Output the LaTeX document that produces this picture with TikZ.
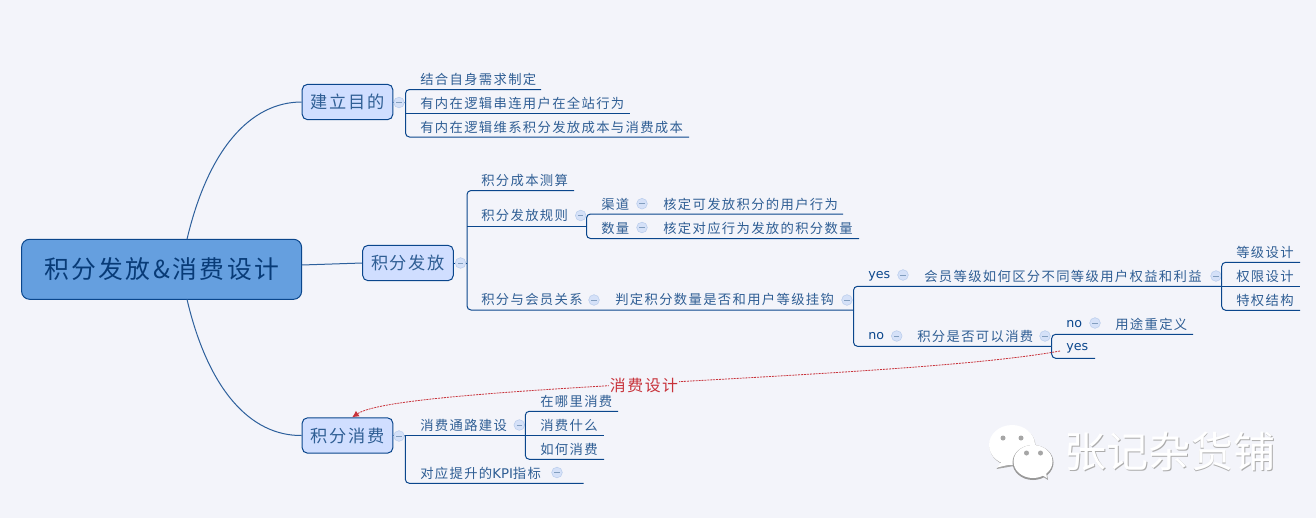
\documentclass[tikz,border=0pt]{standalone}
\usepackage{fontspec}
\setmainfont[LetterSpace=10]{Noto Sans CJK SC}
\newfontfamily\latinfont{DejaVu Sans}
\newfontfamily\markfont{Noto Sans CJK SC}
\definecolor{paper}{HTML}{F3F4FA}
\definecolor{mapline}{HTML}{0A468C}
\definecolor{maptext}{HTML}{2F5E94}
\definecolor{rootfill}{HTML}{659FDF}
\definecolor{mainfill}{HTML}{D0DEFF}
\definecolor{foldfill}{HTML}{D5E1F8}
\definecolor{foldline}{HTML}{BACDEC}
\definecolor{relred}{HTML}{C8323A}
\tikzset{
  rootbox/.style={draw=mapline, fill=rootfill, rounded corners=6pt, line width=.75pt, minimum width=210pt, minimum height=45pt, text=mapline!85!black, font=\fontsize{18.6}{23}\selectfont, inner sep=0pt},
  mainbox/.style={draw=mapline, fill=mainfill, rounded corners=4pt, line width=.75pt, minimum width=68pt, minimum height=26.5pt, text=maptext, font=\fontsize{12.9}{16}\selectfont, inner sep=0pt},
  topic/.style={anchor=west, inner sep=0pt, text=maptext, font=\fontsize{10}{12}\selectfont},
  yesno/.style={anchor=west, inner sep=0pt, text=mapline, font=\latinfont\fontsize{9.5}{12}\selectfont},
  foldmark/.style={circle, draw=foldline, fill=foldfill, line width=.4pt, minimum size=8pt, inner sep=0pt, path picture={\draw[maptext!60, line width=.4pt] ([xshift=-2pt]path picture bounding box.center) -- ([xshift=2pt]path picture bounding box.center);}},
  branch/.style={draw=mapline, line width=.75pt, rounded corners=3pt},
  trunk/.style={draw=mapline!85!paper, line width=.75pt},
  relation/.style={draw=relred, line width=.6pt, dash pattern=on 1.5pt off .7pt, -{Latex[length=5pt,width=5pt]}},
}
\usetikzlibrary{arrows.meta}
\begin{document}
\begin{tikzpicture}[x=.75pt, y=-.75pt]
  \useasboundingbox (0,0) rectangle (1316,518);
  \fill[paper] (0,0) rectangle (1316,518);

  \node[rootbox] (root) at (161.6,269.3) {\raisebox{-.7pt}{积分发放\&消费设计}};
  \node[mainbox] (goal) at (347.5,102) {建立目的};
  \node[mainbox] (issue) at (408,263) {\raisebox{-.6pt}{积分发放}};
  \node[mainbox] (spend) at (347.5,435.5) {积分消费};

  \coordinate (rootTop) at (187,239.3);
  \coordinate (rootBottom) at (187,299.3);
  \coordinate (rootSide) at (301.7,265);
  \draw[trunk] (rootTop) .. controls (208,150) and (250,102) .. (goal.west);
  \draw[trunk] (rootBottom) .. controls (208,389) and (250,436) .. (spend.west);
  \draw[trunk] (rootSide) -- (issue.west);

  \node[foldmark] (goalFold) at (399,102.5) {};
  \coordinate (goalBar) at (405.5,102.5);
  \node[topic] (goalOne) at (420,79) {结合自身需求制定};
  \node[topic] (goalTwo) at (420,103) {有内在逻辑串连用户在全站行为};
  \node[topic] (goalThree) at (420,127) {有内在逻辑维系积分发放成本与消费成本};
  \coordinate (goalOneEnd) at (541,89.5);
  \coordinate (goalTwoEnd) at (630,113);
  \coordinate (goalThreeEnd) at (689,137);
  \draw[branch] (goal.east) -- (goalFold.west) (goalFold.east) -- (goalBar);
  \draw[branch] (goalBar) |- (goalOneEnd);
  \draw[branch] (goalBar) |- (goalThreeEnd);
  \draw[branch] (goalTwoEnd -| goalBar) -- (goalTwoEnd);

  \node[foldmark] (issueFold) at (460.5,263) {};
  \coordinate (issueBar) at (467,263);
  \node[topic] (cost) at (481,180) {积分成本测算};
  \node[topic] (rule) at (481,215.5) {积分发放规则};
  \node[topic] (member) at (481,299.5) {积分与会员关系};
  \coordinate (costEnd) at (574,190.5);
  \coordinate (ruleBar) at (586.5,226);
  \coordinate (memberBar) at (853.5,310);
  \draw[branch] (issue.east) -- (issueFold.west) (issueFold.east) -- (issueBar);
  \draw[branch] (issueBar) |- (costEnd);
  \draw[branch] (issueBar) |- (memberBar);
  \draw[branch] (ruleBar -| issueBar) -- (ruleBar);

  \node[foldmark] (ruleFold) at (580.7,215.5) {};
  \node[topic] (channel) at (601,204) {渠道};
  \node[foldmark] (channelFold) at (642,203.7) {};
  \node[topic] (channelNote) at (663,204) {核定可发放积分的用户行为};
  \node[topic] (amount) at (601,228) {数量};
  \node[foldmark] (amountFold) at (642,227.5) {};
  \node[topic] (amountNote) at (663,228) {核定对应行为发放的积分数量};
  \coordinate (channelEnd) at (843,214);
  \coordinate (amountEnd) at (859,238.5);
  \draw[branch] (ruleBar) |- (channelEnd);
  \draw[branch] (ruleBar) |- (amountEnd);

  \node[foldmark] (memberFold) at (594,300) {};
  \node[topic] (judge) at (615,299.5) {判定积分数量是否和用户等级挂钩};
  \node[foldmark] (judgeFold) at (847,300) {};

  \node[yesno] (yesA) at (868,276) {yes};
  \node[foldmark] (yesFold) at (903,275) {};
  \node[topic] (grade) at (924,276) {会员等级如何区分不同等级用户权益和利益};
  \node[foldmark] (gradeFold) at (1216,276) {};
  \node[topic] (gradeOne) at (1236,252) {等级设计};
  \node[topic] (gradeTwo) at (1236,276) {权限设计};
  \node[topic] (gradeThree) at (1236,300) {特权结构};
  \coordinate (gradeBar) at (1221.7,286.3);
  \coordinate (gradeOneEnd) at (1300,262.3);
  \coordinate (gradeTwoEnd) at (1300,286.3);
  \coordinate (gradeThreeEnd) at (1300,310.3);
  \draw[branch] (memberBar) |- (gradeBar);
  \draw[branch] (gradeBar) |- (gradeOneEnd);
  \draw[branch] (gradeBar) |- (gradeThreeEnd);
  \draw[branch] (gradeBar) -- (gradeTwoEnd);

  \node[yesno] (noA) at (868,336) {no};
  \node[foldmark] (noFold) at (896.7,336) {};
  \node[topic] (usable) at (917,336) {积分是否可以消费};
  \node[foldmark] (usableFold) at (1045,336) {};
  \node[yesno] (noB) at (1066,324) {no};
  \node[foldmark] (noBFold) at (1095,323) {};
  \node[topic] (redefine) at (1115,324) {用途重定义};
  \node[yesno] (yesB) at (1066,348) {yes};
  \coordinate (yesBTail) at (1060,351);
  \coordinate (usableBar) at (1051.7,346.3);
  \coordinate (redefineEnd) at (1193,334.3);
  \coordinate (yesBEnd) at (1095,358.3);
  \draw[branch] (memberBar) |- (usableBar);
  \draw[branch] (usableBar) |- (redefineEnd);
  \draw[branch] (usableBar) |- (yesBEnd);

  \node[foldmark] (spendFold) at (399,436) {};
  \coordinate (spendBar) at (405.3,435.5);
  \node[topic] (route) at (420,425) {消费通路建设};
  \node[foldmark] (routeFold) at (519.3,425) {};
  \node[topic] (kpi) at (420,473) {对应提升的{\latinfont\fontsize{10}{12}\selectfont KPI}指标};
  \node[foldmark] (kpiFold) at (557,472.5) {};
  \node[topic] (where) at (540,401) {在哪里消费};
  \node[topic] (what) at (540,425) {消费什么};
  \node[topic] (how) at (540,449) {如何消费};
  \coordinate (routeBar) at (525.3,435.5);
  \coordinate (kpiEnd) at (583.7,483.3);
  \coordinate (whereEnd) at (618,411.3);
  \coordinate (whatEnd) at (604,435.5);
  \coordinate (howEnd) at (604,459.3);
  \draw[branch] (spend.east) -- (spendFold.west) (spendFold.east) -- (spendBar);
  \draw[branch] (spendBar) -- (routeBar);
  \draw[branch] (spendBar) |- (kpiEnd);
  \draw[branch] (routeBar) |- (whereEnd);
  \draw[branch] (routeBar) |- (howEnd);
  \draw[branch] (routeBar) -- (whatEnd);

  \draw[relation] (yesBTail) .. controls (900,380) and (400,385) .. ([xshift=3.5pt]spend.north);
  \node[fill=paper, inner sep=1pt, text=relred, font=\fontsize{11.9}{15}\selectfont] (relText) at (644,385) {消费设计};

  \fill[gray!70] (1003,461) -- (996.5,469) -- (1014,466) -- cycle;
  \fill[gray!70] (1012.5,446) ellipse (23 and 20);
  \fill[white] (1003,460) -- (997,467.5) -- (1012,464) -- cycle;
  \fill[white] (1012,445) ellipse (23 and 20);
  \fill[gray!70] (1040,475) -- (1048,480) -- (1046,468) -- cycle;
  \fill[gray!80] (1033,462.5) ellipse (20.5 and 17.5);
  \fill[white] (1040,474) -- (1047,478) -- (1045,467) -- cycle;
  \fill[white] (1033,461.5) ellipse (19.5 and 16.5);
  \fill[gray!70] (1003,438) circle (2.5) (1021,438) circle (2.5) (1026.5,453) circle (2.5) (1040.5,453) circle (2.5);

  \node[text=gray!65, font=\markfont\fontsize{31.6}{36}\selectfont, inner sep=0pt] (markShade) at (1170.8,452.3) {张记杂货铺};
  \node[text=white, font=\markfont\fontsize{31.6}{36}\selectfont, inner sep=0pt] (markText) at (1170,451.5) {张记杂货铺};
\end{tikzpicture}
\end{document}
